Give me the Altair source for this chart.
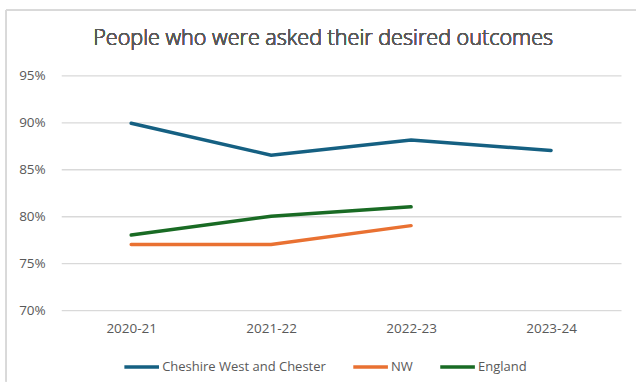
import altair as alt
import pandas as pd

title_text = "People who were asked their desired outcomes"
years = ["2020-21", "2021-22", "2022-23", "2023-24"]
cheshire = [89.9, 86.5, 88.1, 87.0]
nw = [77.0, 77.0, 79.0, None]
england = [78.0, 80.0, 81.0, None]
series_names = ["Cheshire West and Chester", "NW", "England"]
colors = ["#156082", "#E97132", "#196B24"]

rows = []
for name, vals in zip(series_names, [cheshire, nw, england]):
    for y, v in zip(years, vals):
        if v is not None:
            rows.append({"year": y, "series": name, "value": v / 100})
df = pd.DataFrame(rows)

font = "Open Sans"
grey = "#595959"
fs = 13.5

lines = alt.Chart(df).mark_line(strokeWidth=3.5, strokeCap="round").encode(
    x=alt.X("year:N", sort=years, title=None,
            scale=alt.Scale(type="point", padding=0.5),
            axis=alt.Axis(labelAngle=0, domain=False, ticks=False, grid=False,
                          labelPadding=11, labelFontSize=fs, labelColor=grey, labelFont=font)),
    y=alt.Y("value:Q", title=None,
            scale=alt.Scale(domain=[0.70, 0.95], nice=False, zero=False),
            axis=alt.Axis(format=".0%", values=[0.70, 0.75, 0.80, 0.85, 0.90, 0.95],
                          domain=False, ticks=False, gridColor="#D9D9D9", gridWidth=1.3,
                          labelPadding=16, labelFontSize=fs, labelColor=grey, labelFont=font)),
    color=alt.Color("series:N", sort=series_names,
                    scale=alt.Scale(domain=series_names, range=colors),
                    legend=alt.Legend(title=None, orient="none", direction="horizontal",
                                      legendX=61, legendY=272,
                                      symbolType="stroke", symbolSize=1200, symbolStrokeWidth=3.5,
                                      labelFontSize=13, labelColor=grey, labelFont=font,
                                      labelLimit=400, columnPadding=20, labelOffset=1)),
    detail="series:N",
)

border_top = alt.Chart(df).mark_rule(color="#D9D9D9", strokeWidth=1.5).encode(
    x=alt.value(-55), x2=alt.value(575), y=alt.value(-65))
border_left = alt.Chart(df).mark_rule(color="#D9D9D9", strokeWidth=1.5).encode(
    x=alt.value(-55), y=alt.value(-65), y2=alt.value(306))
title = alt.Chart(df).mark_text(text=title_text, font=font, fontSize=21.6, fontWeight=300,
                                color=grey, align="center", baseline="alphabetic").encode(
    x=alt.value(262), y=alt.value(-30))

chart = alt.layer(border_top, border_left, title, lines).properties(
    width=560, height=235,
    padding={"left": 5.25, "top": 9.25, "right": 0, "bottom": 0},
).configure_view(stroke=None)

chart.save("out.html", embed_options={"renderer": "svg", "actions": False})
